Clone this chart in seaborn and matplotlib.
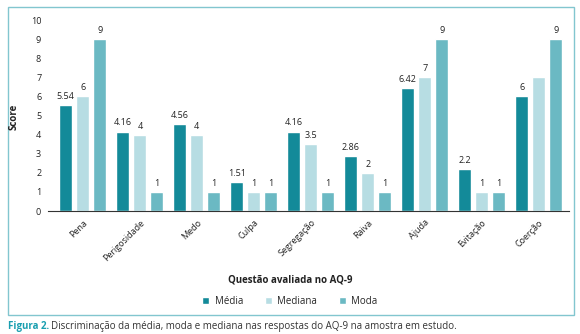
import pandas as pd
import matplotlib.pyplot as plt
import seaborn as sns
from matplotlib.patches import Rectangle

questoes = ['Pena', 'Perigosidade', 'Medo', 'Culpa', 'Segregação',
            'Raiva', 'Ajuda', 'Evitação', 'Coerção']
media = [5.54, 4.16, 4.56, 1.51, 4.16, 2.86, 6.42, 2.2, 6]
mediana = [6, 4, 4, 1, 3.5, 2, 7, 1, 7]
moda = [9, 1, 1, 1, 1, 1, 9, 1, 9]
medidas = ['Média', 'Mediana', 'Moda']
# labels as printed in the figure (Coerção median has none)
rotulos = {
    'Média': ['5.54', '4.16', '4.56', '1.51', '4.16', '2.86', '6.42', '2.2', '6'],
    'Mediana': ['6', '4', '4', '1', '3.5', '2', '7', '1', ''],
    'Moda': ['9', '1', '1', '1', '1', '1', '9', '1', '9'],
}
cores = ['#138a99', '#b7dde3', '#6bb9c3']

df = pd.DataFrame({
    'Questão': questoes * 3,
    'Medida': [m for m in medidas for _ in questoes],
    'Score': media + mediana + moda,
})

sns.set_theme(style='white')
plt.rcParams['font.family'] = ['Open Sans', 'DejaVu Sans']
texto = '#222222'

fig = plt.figure(figsize=(5.8, 3.34), dpi=100)
ax = fig.add_axes([0.083, 0.368, 0.898, 0.572])

sns.barplot(data=df, x='Questão', y='Score', hue='Medida', palette=cores,
            width=0.9, gap=0.24, saturation=1, ax=ax, legend=True)

for cont, m in zip(ax.containers, medidas):
    ax.bar_label(cont, labels=rotulos[m], padding=3, fontsize=6.5, color=texto)

ax.set_ylim(0, 10)
ax.set_xlim(-0.61, 8.53)
ax.set_yticks(range(0, 11))
ax.tick_params(axis='y', length=0, labelsize=6.5, labelcolor=texto, pad=5)
ax.tick_params(axis='x', length=0, labelsize=6.5, labelcolor=texto, pad=5)
for lab in ax.get_xticklabels():
    lab.set_rotation(45)
    lab.set_ha('right')
    lab.set_rotation_mode('anchor')
for s in ['top', 'right', 'left']:
    ax.spines[s].set_visible(False)
ax.spines['bottom'].set_color('#333333')
ax.spines['bottom'].set_linewidth(0.8)

ax.set_xlabel('')
ax.set_ylabel('')
fig.text(14 / 580, 1 - 117 / 334, 'Score', rotation=90, ha='center', va='center',
         fontsize=7, fontweight='bold', color=texto)
fig.text(0.5, 1 - 280 / 334, 'Questão avaliada no AQ-9', ha='center', va='center',
         fontsize=7, fontweight='bold', color=texto)

ax.legend(loc='center', bbox_to_anchor=(0.5, 1 - 301 / 334),
          bbox_transform=fig.transFigure, ncol=3, frameon=False, fontsize=7,
          handlelength=0.7, handleheight=0.7, columnspacing=2.2, handletextpad=0.6)

# outer frame
fig.patches.append(Rectangle((8 / 580, 1 - 315 / 334), 566 / 580, 308 / 334,
                             transform=fig.transFigure, fill=False,
                             edgecolor='#82c6cf', linewidth=1.0))

# caption
t1 = fig.text(8 / 580, 1 - 326 / 334, 'Figura 2.', fontsize=7, fontweight='bold',
              color='#1a9fb0', va='center', ha='left')
fig.canvas.draw()
bb = t1.get_window_extent()
x2 = bb.x1 / fig.bbox.width + 0.004
fig.text(x2, 1 - 326 / 334,
         'Discriminação da média, moda e mediana nas respostas do AQ-9 na amostra em estudo.',
         fontsize=7, color='#333333', va='center', ha='left')

fig.savefig('out.png', dpi=100)
